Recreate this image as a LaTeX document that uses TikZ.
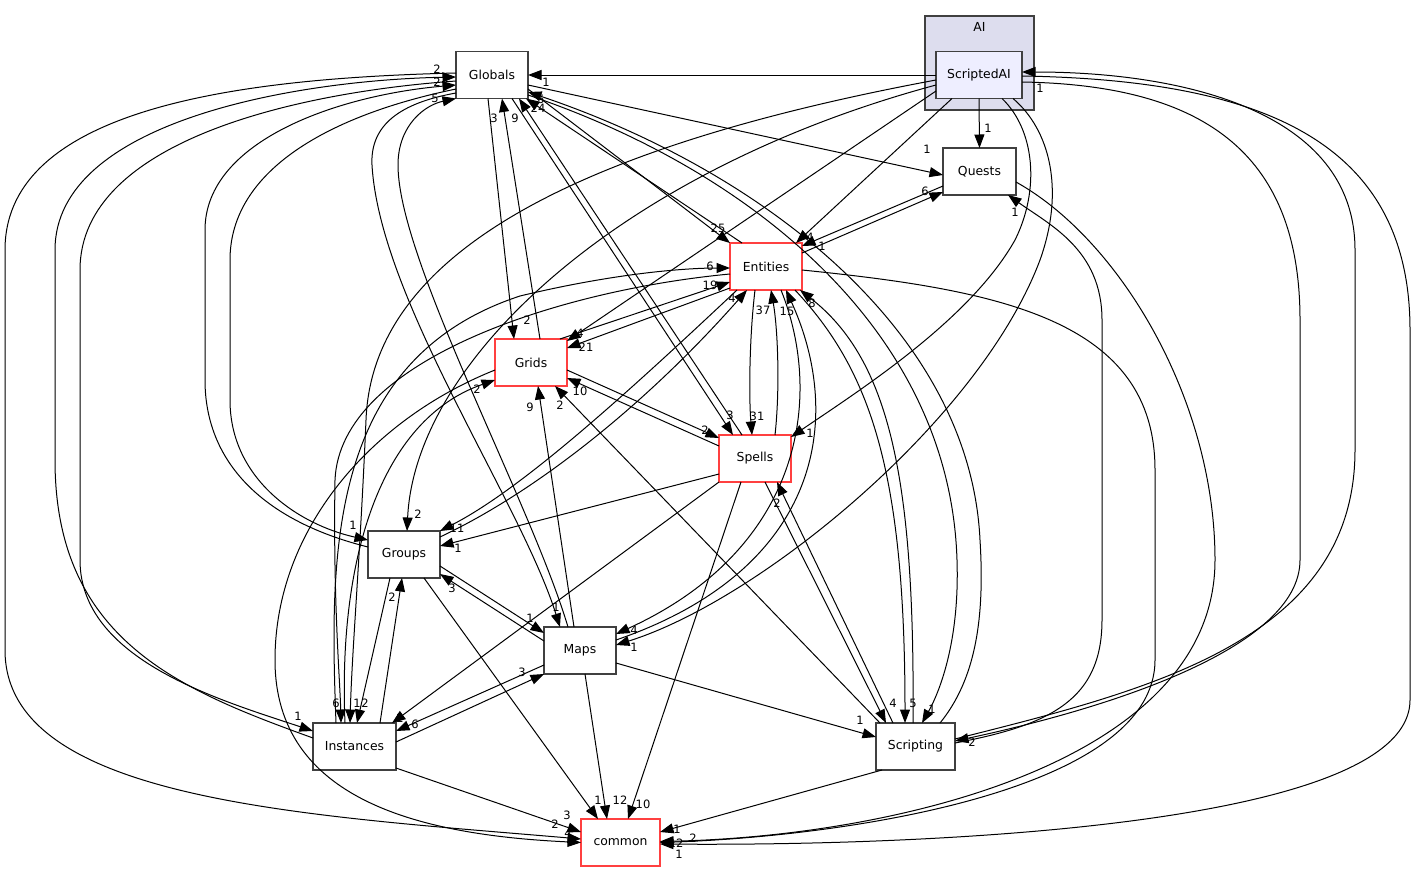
\documentclass[tikz,border=0pt]{standalone}
\usepackage{fontspec}
\setmainfont{DejaVu Sans}
\usetikzlibrary{arrows.meta}
\definecolor{clusterfill}{HTML}{DDDDEE}
\definecolor{focusfill}{HTML}{EEEEFF}
\definecolor{boxline}{HTML}{404040}
\definecolor{redline}{HTML}{FF4040}
\begin{document}
\begin{tikzpicture}[x=1pt,y=-1pt,
    dirnode/.style={draw=boxline,line width=1.3pt,fill=white,minimum width=72pt,
      minimum height=47pt,inner sep=0pt,outer sep=0pt,font=\fontsize{12.4}{14}\selectfont},
    rednode/.style={dirnode,draw=redline},
    dep/.style={-{Triangle[length=13.5pt,width=10pt]},line width=1pt},
    lbl/.style={inner sep=0pt,font=\fontsize{11.5}{13}\selectfont}]
  \useasboundingbox (0,0) rectangle (1413,873);

  % the AI directory and the dirs around it
  \node[draw=boxline,line width=1.3pt,fill=clusterfill,minimum width=109pt,
    minimum height=94pt,inner sep=0pt] (AI) at (979.5,63) {};
  \node[lbl,font=\fontsize{12.4}{14}\selectfont] (AItitle) at (979.5,27) {AI};
  \node[dirnode,fill=focusfill,minimum width=86pt] (ScriptedAI) at (979,75) {ScriptedAI};
  \node[dirnode] (Globals) at (492,75) {Globals};
  \node[dirnode,minimum width=73pt] (Quests) at (979.5,171.5) {Quests};
  \node[rednode] (Entities) at (766,266.5) {Entities};
  \node[rednode] (Grids) at (531,362.5) {Grids};
  \node[rednode] (Spells) at (755,458.5) {Spells};
  \node[dirnode] (Groups) at (404,554.5) {Groups};
  \node[dirnode] (Maps) at (580,650.5) {Maps};
  \node[dirnode,minimum width=83pt] (Instances) at (354.5,746.5) {Instances};
  \node[dirnode,minimum width=79pt] (Scripting) at (915.5,746.5) {Scripting};
  \node[rednode,minimum width=79pt] (common) at (620.5,842.5) {common};

  % from ScriptedAI
  \draw[dep] (ScriptedAI.west) -- (Globals.east) node[lbl] (l1) at (546,82) {1};
  \draw[dep] (ScriptedAI.south) -- (Quests.north) node[lbl] (l2) at (988,128) {1};
  \draw[dep] ([xshift=-27pt]ScriptedAI.south) -- ([xshift=30pt]Entities.north) node[lbl] (l3) at (810,237) {4};
  \draw[dep] ([yshift=-16pt]ScriptedAI.west) -- ([yshift=21.5pt]Grids.east) node[lbl] (l4) at (580,333) {4};
  \draw[dep] ([yshift=-10pt]ScriptedAI.west) .. controls (620,170) and (415,360) .. ([xshift=3pt]Groups.north)
    node[lbl] (l5) at (418,514) {2};
  \draw[dep] ([yshift=-5pt]ScriptedAI.west) .. controls (560,150) and (372,260) .. (366,420)
    .. controls (360,560) and (352,650) .. ([xshift=-4.5pt]Instances.north) node[lbl] (l6) at (357,703) {1};
  \draw[dep] ([xshift=23pt]ScriptedAI.south) .. controls (1035,130) and (1040,190) .. (1015,240)
    .. controls (970,320) and (860,390) .. ([yshift=-2pt]Spells.north east) node[lbl] (l7) at (810,433) {1};
  \draw[dep] ([xshift=34pt]ScriptedAI.south) .. controls (1050,130) and (1065,190) .. (1040,260)
    .. controls (980,420) and (760,600) .. ([yshift=5.5pt]Maps.east) node[lbl] (l8) at (634,647) {1};
  \draw[dep] ([yshift=-7pt]ScriptedAI.east) .. controls (1200,85) and (1300,150) .. (1300,320) -- (1300,560)
    .. controls (1300,650) and (1100,710) .. ([yshift=5.5pt]Scripting.east) node[lbl] (l9) at (972,742) {2};
  \draw[dep] ([yshift=-1pt]ScriptedAI.east) .. controls (1260,80) and (1410,140) .. (1410,330) -- (1410,700)
    .. controls (1410,830) and (900,846) .. ([yshift=-1.5pt]common.east) node[lbl] (l10) at (679,854) {1};

  % into ScriptedAI and Quests
  \draw[dep] ([yshift=7.5pt]Scripting.east) .. controls (1150,690) and (1355,640) .. (1355,450) -- (1355,250)
    .. controls (1355,110) and (1180,72) .. ([yshift=3pt]ScriptedAI.east) node[lbl] (l11) at (1040,88) {1};
  \draw[dep] ([yshift=3.5pt]Scripting.east) .. controls (1050,725) and (1102,700) .. (1102,620) -- (1102,320)
    .. controls (1102,250) and (1050,225) .. ([xshift=28.5pt]Quests.south) node[lbl] (l12) at (1015,212) {1};
  \draw[dep] ([yshift=-10.5pt]Quests.east) .. controls (1120,240) and (1215,400) .. (1215,560)
    .. controls (1215,760) and (900,836) .. ([yshift=1pt]common.east) node[lbl] (l13) at (693,838) {2};
  \draw[dep] ([yshift=-3.5pt]Entities.east) .. controls (1000,290) and (1155,320) .. (1155,470) -- (1155,660)
    .. controls (1155,790) and (850,836) .. (common.east) node[lbl] (l14) at (676,843) {12};
  \draw[dep] ([xshift=-33.5pt]Scripting.south) -- ([yshift=10.5pt]common.east) node[lbl] (l15) at (677,829) {1};

  % Globals
  \draw[dep] ([yshift=-10pt]Globals.east) -- ([yshift=-3.5pt]Quests.west) node[lbl] (l16) at (927,149) {1};
  \draw[dep] ([yshift=-14pt]Globals.east) -- (Entities.north west) node[lbl] (l17) at (718,228) {25};
  \draw[dep] ([xshift=-24pt]Entities.north) -- ([xshift=-2pt]Globals.south east) node[lbl] (l18) at (538,108) {24};
  \draw[dep] ([yshift=-14.5pt]Quests.west) -- ([yshift=20.5pt]Entities.east) node[lbl] (l19) at (822,246) {1};
  \draw[dep] ([yshift=13.5pt]Entities.east) -- ([yshift=-20.5pt]Quests.west) node[lbl] (l20) at (925,191) {6};
  \draw[dep] ([xshift=-4pt]Globals.south) -- ([xshift=-17pt]Grids.north) node[lbl] (l21) at (527,320) {2};
  \draw[dep] ([xshift=9pt]Grids.north) -- ([xshift=10pt]Globals.south) node[lbl] (l22) at (494,118) {3};
  \draw[dep] ([xshift=20pt]Globals.south) -- ([xshift=-22pt]Spells.north) node[lbl] (l23) at (730,415) {3};
  \draw[dep] ([xshift=-13pt]Spells.north) -- ([xshift=27pt]Globals.south) node[lbl] (l24) at (515,118) {9};
  \draw[dep] ([yshift=-20pt]Globals.east) .. controls (750,170) and (950,330) .. (957,560)
    .. controls (960,650) and (935,700) .. ([xshift=6.5pt]Scripting.north) node[lbl] (l25) at (932,709) {1};
  \draw[dep] ([xshift=24.5pt]Scripting.north) .. controls (975,680) and (985,620) .. (980,540)
    .. controls (970,330) and (760,170) .. ([yshift=-17pt]Globals.east) node[lbl] (l26) at (541,99) {5};
  \draw[dep] ([yshift=8.5pt]Instances.west) .. controls (180,690) and (55,640) .. (55,460) -- (55,250)
    .. controls (55,120) and (300,80) .. ([yshift=-2pt]Globals.west) node[lbl] (l27) at (437,69) {2};
  \draw[dep] ([yshift=-6pt]Globals.west) .. controls (300,92) and (80,140) .. (80,270) -- (80,560)
    .. controls (80,660) and (220,700) .. ([yshift=15.5pt]Instances.west) node[lbl] (l28) at (298,716) {1};
  \draw[dep] ([yshift=2pt]Globals.west) .. controls (250,78) and (5,105) .. (5,250) -- (5,650)
    .. controls (5,800) and (300,815) .. ([yshift=3.5pt]common.west) node[lbl] (l29) at (568,833) {4};
  \draw[dep] ([yshift=7.5pt]Groups.west) .. controls (260,520) and (205,460) .. (205,380) -- (205,230)
    .. controls (205,140) and (340,95) .. ([yshift=-10pt]Globals.west) node[lbl] (l30) at (437,82) {2};
  \draw[dep] ([yshift=-14pt]Globals.west) .. controls (330,115) and (230,170) .. (230,260) -- (230,400)
    .. controls (230,480) and (300,525) .. ([yshift=14.5pt]Groups.west) node[lbl] (l31) at (353,525) {1};
  \draw[dep] ([yshift=-18pt]Globals.west) .. controls (400,103) and (370,125) .. (372,165)
    .. controls (380,300) and (520,500) .. ([xshift=-20pt]Maps.north) node[lbl] (l32) at (556,607) {1};
  \draw[dep] ([xshift=-12pt]Maps.north) .. controls (530,500) and (398,260) .. (398,165)
    .. controls (398,125) and (425,105) .. (Globals.south west) node[lbl] (l33) at (435,98) {5};

  % Grids
  \draw[dep] ([yshift=-7.5pt]Grids.west) .. controls (370,420) and (275,530) .. (275,660)
    .. controls (275,800) and (420,835) .. (common.west) node[lbl] (l34) at (555,824) {2};
  \draw[dep] ([xshift=-9.5pt]Instances.north) .. controls (338,560) and (380,420) .. ([yshift=-17.5pt]Grids.west)
    node[lbl] (l35) at (477,389) {2};
  \draw[dep] ([xshift=29pt]Grids.north) -- ([yshift=-15.5pt]Entities.west) node[lbl] (l36) at (710,285) {19};
  \draw[dep] ([yshift=-21.5pt]Entities.west) -- ([yshift=14.5pt]Grids.east) node[lbl] (l37) at (586,347) {21};
  \draw[dep] ([yshift=-7.5pt]Grids.east) -- ([yshift=20.5pt]Spells.west) node[lbl] (l38) at (705,430) {2};
  \draw[dep] ([yshift=12.5pt]Spells.west) -- ([yshift=-15.5pt]Grids.east) node[lbl] (l39) at (580,391) {10};
  \draw[dep] ([xshift=-6pt]Maps.north) -- ([xshift=7pt]Grids.south) node[lbl] (l40) at (530,407) {9};
  \draw[dep] ([xshift=-35.5pt]Scripting.north) -- ([xshift=24pt]Grids.south) node[lbl] (l41) at (560,405) {2};

  % Entities
  \draw[dep] ([xshift=-18.5pt]Instances.north) .. controls (330,560) and (325,360) .. (520,296)
    .. controls (620,272) and (690,268) .. ([yshift=-1.5pt]Entities.west) node[lbl] (l42) at (710,266) {6};
  \draw[dep] ([yshift=-7.5pt]Entities.west) .. controls (560,290) and (340,360) .. (335,480)
    .. controls (333,600) and (340,680) .. ([xshift=-13.5pt]Instances.north) node[lbl] (l43) at (336,703) {6};
  \draw[dep] ([xshift=-29pt]Entities.south) .. controls (620,400) and (520,490) .. (Groups.north east)
    node[lbl] (l44) at (457,528) {11};
  \draw[dep] ([yshift=17.5pt]Groups.east) .. controls (540,490) and (650,400) .. ([xshift=-19pt]Entities.south)
    node[lbl] (l45) at (732,298) {4};
  \draw[dep] ([xshift=-11pt]Entities.south) .. controls (749,340) and (749,400) .. ([xshift=-3pt]Spells.north)
    node[lbl] (l46) at (757,416) {31};
  \draw[dep] ([xshift=20pt]Spells.north) .. controls (780,390) and (778,330) .. ([xshift=5pt]Entities.south)
    node[lbl] (l47) at (763,310) {37};
  \draw[dep] ([yshift=10.5pt]Maps.east) .. controls (820,570) and (845,420) .. ([xshift=20pt]Entities.south)
    node[lbl] (l48) at (787,311) {15};
  \draw[dep] ([xshift=15pt]Entities.south) .. controls (825,400) and (800,550) .. ([yshift=16.5pt]Maps.east)
    node[lbl] (l49) at (634,630) {4};
  \draw[dep] ([xshift=-2.5pt]Scripting.north) .. controls (915,480) and (890,360) .. ([xshift=34pt]Entities.south)
    node[lbl] (l50) at (812,303) {8};
  \draw[dep] ([xshift=29pt]Entities.south) .. controls (870,370) and (905,470) .. ([xshift=-10.5pt]Scripting.north)
    node[lbl] (l51) at (913,703) {5};

  % Spells
  \draw[dep] ([xshift=-22.5pt]Scripting.north) -- ([xshift=22pt]Spells.south) node[lbl] (l52) at (777,503) {2};
  \draw[dep] ([xshift=10pt]Spells.south) -- ([xshift=-29.5pt]Scripting.north) node[lbl] (l53) at (893,703) {4};
  \draw[dep] ([yshift=-15.5pt]Spells.west) -- ([yshift=8.5pt]Groups.east) node[lbl] (l54) at (458,548) {1};
  \draw[dep] (Spells.south west) -- ([xshift=37.5pt]Instances.north) node[lbl] (l55) at (400,718) {2};
  \draw[dep] ([xshift=-14pt]Spells.south) -- ([xshift=7.5pt]common.north) node[lbl] (l56) at (643,804) {10};

  % Groups, Maps, Instances
  \draw[dep] ([yshift=-11.5pt]Groups.east) -- ([yshift=17.5pt]Maps.west) node[lbl] (l57) at (530,618) {1};
  \draw[dep] ([yshift=9.5pt]Maps.west) -- ([yshift=-19.5pt]Groups.east) node[lbl] (l58) at (452,588) {3};
  \draw[dep] ([yshift=4.5pt]Instances.east) -- (Maps.south west) node[lbl] (l59) at (522,672) {3};
  \draw[dep] ([yshift=-14.5pt]Maps.west) -- ([yshift=15.5pt]Instances.east) node[lbl] (l60) at (415,724) {6};
  \draw[dep] ([yshift=-12.5pt]Maps.east) -- ([yshift=9.5pt]Scripting.west) node[lbl] (l61) at (860,720) {1};
  \draw[dep] ([xshift=20pt]Groups.south) -- ([xshift=-22.5pt]common.north) node[lbl] (l62) at (598,800) {1};
  \draw[dep] ([xshift=5pt]Maps.south) -- ([xshift=-13.5pt]common.north) node[lbl] (l63) at (620,800) {12};
  \draw[dep] ([yshift=-21.5pt]Instances.east) -- ([yshift=10.5pt]common.west) node[lbl] (l64) at (567,815) {3};
  \draw[dep] ([xshift=25.5pt]Instances.north) -- ([xshift=-2pt]Groups.south) node[lbl] (l65) at (392,597) {2};
  \draw[dep] ([xshift=-14pt]Groups.south) -- ([xshift=2.5pt]Instances.north) node[lbl] (l66) at (365,703) {2};
\end{tikzpicture}
\end{document}
